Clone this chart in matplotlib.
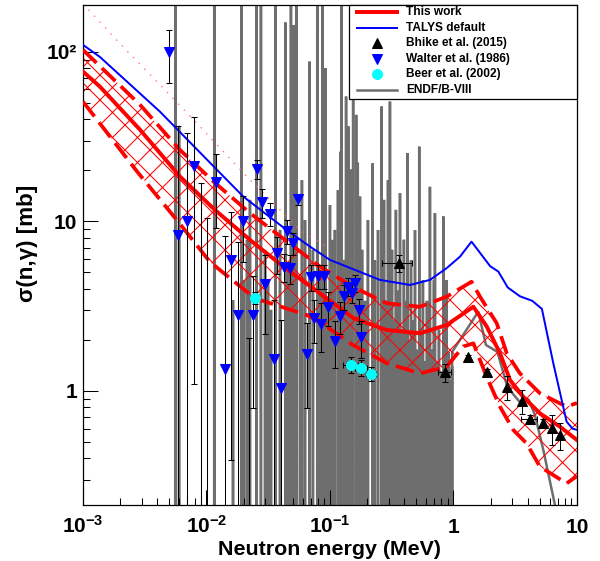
import numpy as np
import matplotlib.pyplot as plt
from matplotlib.patches import Rectangle
from matplotlib.ticker import LogLocator, NullFormatter

plt.rcParams['font.family'] = ['Liberation Sans', 'DejaVu Sans']
plt.rcParams['font.weight'] = 'bold'
plt.rcParams['mathtext.fontset'] = 'custom'
plt.rcParams['mathtext.rm'] = 'Liberation Sans:bold'
plt.rcParams['mathtext.bf'] = 'Liberation Sans:bold'
plt.rcParams['mathtext.default'] = 'rm'
plt.rcParams['hatch.linewidth'] = 1.0

# --- this work: central value and band limits (MeV, mb)
work_e = [0.001, 0.00137, 0.0029, 0.0061, 0.0117, 0.0225, 0.0432, 0.083, 0.155, 0.287,
          0.536, 0.88, 1.45, 1.86, 2.38, 2.87, 3.67, 5.01, 7.28, 10]
work_s = [76.5, 62.4, 34.7, 18.4, 11.7, 7.78, 5.32, 3.77, 2.69, 2.29,
          2.19, 2.45, 3.14, 2.40, 1.67, 1.16, 0.926, 0.738, 0.616, 0.514]
work_hi_e = [0.001, 0.0029, 0.0061, 0.0117, 0.0225, 0.0432, 0.083, 0.153, 0.288, 0.536,
             0.88, 1.40, 1.64, 2.24, 2.70, 3.45, 5.01, 8.24, 10]
work_hi_s = [102.7, 48.7, 26.4, 16.9, 11.2, 7.78, 5.41, 4.12, 3.29, 3.14,
             3.60, 4.41, 3.60, 2.51, 1.67, 1.27, 0.969, 0.808, 0.85]
work_lo_e = [0.001, 0.00274, 0.0061, 0.01067, 0.0247, 0.0647, 0.083, 0.153, 0.288, 0.536,
             0.88, 1.20, 1.45, 1.86, 2.38, 3.05, 3.91, 5.01, 8.24, 10]
work_lo_s = [50.9, 19.7, 9.67, 5.77, 3.52, 2.81, 2.55, 1.87, 1.46, 1.27,
             1.39, 1.83, 1.91, 1.21, 0.808, 0.589, 0.491, 0.358, 0.285, 0.315]

# --- TALYS default
talys_e = [0.001, 0.00137, 0.0042, 0.0146, 0.0199, 0.0446, 0.069, 0.1, 0.254, 0.445,
           0.645, 0.88, 1.13, 1.40, 1.98, 2.31, 2.75, 3.45, 4.35, 5.2, 6.43, 8.24, 9.2, 10]
talys_s = [110, 93.4, 44.4, 17.6, 14.0, 8.9, 7.1, 5.93, 4.52, 4.22,
           4.52, 5.3, 6.2, 7.6, 5.45, 5.06, 4.08, 3.62, 3.4, 3.05, 1.46, 0.66, 0.60, 0.59]

# --- dotted curve at low energy
dot_e = [0.001, 0.00118, 0.00192, 0.00461, 0.00885, 0.0212, 0.0571, 0.094]
dot_s = [192, 169, 115, 59.7, 36.3, 18.4, 8.91, 7.1]

# --- Bhike et al. (2015)
bhike_e = [0.364, 0.853, 1.30, 1.86, 2.71, 3.60, 4.14, 5.28, 6.30, 7.24]
bhike_s = [5.67, 1.29, 1.59, 1.30, 1.06, 0.873, 0.687, 0.650, 0.603, 0.550]
bhike_ds = [0.65, 0.16, 0.05, 0.05, 0.17, 0.145, 0.03, 0.03, 0.12, 0.10]
bhike_de = [0.10, 0.10, 0.0, 0.0, 0.0, 0.0, 0.6, 0.0, 0.0, 0.0]

# --- Walter et al. (1986)
walter_e = [0.00500, 0.00592, 0.00700, 0.00796, 0.00897, 0.01005, 0.01194, 0.0140, 0.01585, 0.0179,
            0.01986, 0.022, 0.0239, 0.0258, 0.0280, 0.0298, 0.0324, 0.0349, 0.0373, 0.0399,
            0.0425, 0.0447, 0.0474, 0.0499, 0.0546, 0.0647, 0.0700, 0.0746, 0.0793, 0.0845,
            0.0893, 0.0957, 0.110, 0.120, 0.130, 0.140, 0.150, 0.159, 0.171, 0.180]
walter_s = [100.4, 8.33, 10.07, 21.1, 0.15, 0.15, 17.1, 1.35, 5.89, 2.79,
            10.0, 0.15, 2.79, 20.5, 13.0, 4.28, 11.1, 1.54, 6.49, 1.04,
            5.41, 8.79, 5.30, 7.44, 13.5, 1.66, 4.71, 2.68, 4.77, 2.49,
            4.77, 3.13, 1.97, 2.76, 3.62, 4.12, 3.79, 4.36, 2.99, 2.07]
walter_ds = [35, 28, 23, 20, 16.8, 10.3, 7.9, 6.8, 5.5, 4.8,
             4.2, 1.9, 2.0, 2.6, 2.5, 2.1, 1.7, 1.9, 1.6, 1.6,
             1.0, 1.4, 1.0, 1.1, 1.0, 0.87, 0.8, 0.76, 0.8, 0.8,
             0.8, 0.7, 0.6, 0.6, 0.6, 0.5, 0.5, 0.5, 0.5, 0.5]

# --- Beer et al. (2002)
beer_e = [0.0247, 0.148, 0.179, 0.214]
beer_s = [3.54, 1.43, 1.37, 1.26]
beer_ds = [0.3, 0.16, 0.15, 0.12]
beer_de = [0.0, 0.02, 0.02, 0.02]

# --- ENDF/B-VIII: resolved resonances (energy, peak), then smooth part above 1 MeV
res_e = [0.00559, 0.00600, 0.01156, 0.0164, 0.01914, 0.0201, 0.0213, 0.0225, 0.02547, 0.02761,
         0.0298, 0.0315, 0.0333, 0.03631, 0.0394, 0.04347, 0.0457, 0.04831, 0.05045, 0.0537,
         0.0572, 0.0593, 0.0628, 0.0683, 0.0728, 0.0789, 0.0830, 0.0869, 0.0920, 0.0955,
         0.1000, 0.1038, 0.1096, 0.1161, 0.122, 0.124, 0.1298, 0.135, 0.141, 0.148,
         0.154, 0.163, 0.168, 0.175,
         0.182, 0.192, 0.203, 0.222, 0.231, 0.245, 0.262, 0.274, 0.284, 0.295,
         0.306, 0.318, 0.330, 0.342, 0.355, 0.369, 0.383, 0.397, 0.412, 0.423,
         0.436, 0.453, 0.470, 0.488, 0.506, 0.528, 0.546, 0.566, 0.588, 0.610,
         0.633, 0.645, 0.669, 0.695, 0.708, 0.735, 0.763, 0.793, 0.827, 0.853,
         0.881, 0.908, 0.938, 0.973]
res_peak = [1000, 36.6, 1000, 3.44, 1000, 4.52, 7.78, 13.4, 1000, 1000,
            6.79, 4.52, 3.01, 1000, 8.91, 149, 5.17, 1000, 144, 1000,
            3.44, 17.5, 10.2, 87.6, 6.79, 1000, 5.17, 1000, 80.1, 3.44,
            12.5, 7.78, 8.91, 15.3, 25.8, 1000, 5.93, 54.5, 36.3, 20.2,
            52.1, 42.5, 22.2, 14.0,
            6.8, 3.4, 10.2, 22.0, 5.9, 8.9, 47.6, 13.4, 3.4, 17.5,
            50.9, 6.8, 2.6, 11.7, 3.9, 14.7, 2.3, 7.8, 3.4, 25.3,
            2.0, 5.9, 2.6, 8.9, 1.75, 27.6, 2.3, 4.5, 1.5, 3.4,
            2.0, 16.0, 1.75, 4.5, 11.2, 1.5, 2.3, 1.3, 10.7, 1.75,
            4.5, 1.7, 1.16, 1.4]
res_floor = 0.05
endf_tail_e = [0.975, 1.59, 1.83, 2.27, 2.74, 3.52, 4.04, 4.57, 5.34, 6.64, 7.57]
endf_tail_s = [1.7, 2.94, 1.87, 1.70, 1.05, 0.844, 0.897, 0.722, 0.449, 0.212, 0.12]

legend_labels = ['This work', 'TALYS default', 'Bhike et al. (2015)',
                 'Walter et al. (1986)', 'Beer et al. (2002)', 'ENDF/B-VIII']

GRAY = '#6e6e6e'

fig = plt.figure(figsize=(8, 7.48), dpi=75)
ax = fig.add_axes([0.1383, 0.0998, 0.8233, 0.8913])
ax.set_xscale('log')
ax.set_yscale('log')

# ENDF line: every resonance is a narrow spike between floor values
endf_e, endf_s = [], []
for e, p in zip(res_e, res_peak):
    endf_e += [e * 0.998, e, e * 1.002]
    endf_s += [res_floor, p, res_floor]
endf_e += endf_tail_e
endf_s += endf_tail_s
ax.plot(endf_e, endf_s, color=GRAY, lw=2.4, solid_joinstyle='bevel', zorder=1)

# hatched uncertainty band
band_e = np.concatenate([work_hi_e, work_lo_e[::-1]])
band_s = np.concatenate([work_hi_s, work_lo_s[::-1]])
ax.fill(band_e, band_s, facecolor='none', edgecolor='red', hatch='x', lw=0, zorder=2)
ax.plot(work_hi_e, work_hi_s, color='red', lw=3.6, dashes=(5, 2), zorder=3)
ax.plot(work_lo_e, work_lo_s, color='red', lw=3.6, dashes=(5, 2), zorder=3)
ax.plot(work_e, work_s, color='red', lw=3.8, zorder=3)

ax.plot(talys_e, talys_s, color='blue', lw=1.9, zorder=4)
ax.plot(dot_e, dot_s, color='#ff7070', lw=1.3, ls=(0, (1, 5)), zorder=4)

# data points
ax.errorbar(walter_e, walter_s, yerr=walter_ds, fmt='v', color='blue', ms=9.5,
            ecolor='black', elinewidth=1, capsize=3, capthick=1, zorder=5)
ax.errorbar(bhike_e, bhike_s, yerr=bhike_ds, xerr=bhike_de, fmt='^', color='black', ms=9,
            ecolor='black', elinewidth=1, capsize=3, capthick=1, zorder=5)
ax.errorbar(beer_e, beer_s, yerr=beer_ds, xerr=beer_de, fmt='o', color='#00ffff', ms=9.5,
            ecolor='black', elinewidth=1, capsize=3, capthick=1, zorder=5)

ax.set_xlim(1e-3, 10)
ax.set_ylim(0.2126, 189)

ax.set_xticks([1e-3, 1e-2, 1e-1, 1, 10], [r'$10^{-3}$', r'$10^{-2}$', r'$10^{-1}$', '1', '10'])
ax.set_yticks([1, 10, 100], ['1', '10', '10²'])
ax.xaxis.set_minor_locator(LogLocator(base=10, subs=np.arange(2, 10), numticks=20))
ax.yaxis.set_minor_locator(LogLocator(base=10, subs=np.arange(2, 10), numticks=20))
ax.xaxis.set_minor_formatter(NullFormatter())
ax.yaxis.set_minor_formatter(NullFormatter())
ax.tick_params(which='both', direction='in', top=False, right=False, width=1)
ax.tick_params(which='major', length=14)
ax.tick_params(which='minor', length=7)
ax.tick_params(axis='x', pad=27, labelsize=20)
ax.tick_params(axis='y', pad=5.5, labelsize=20)
for t in ax.get_xticklabels():
    t.set_va('baseline')
for sp in ax.spines.values():
    sp.set_linewidth(1.2)

fig.text(0.55, 0.011, 'Neutron energy (MeV)', ha='center', va='baseline', fontsize=20.5,
         fontweight='bold')
fig.text(0.045, 0.567, 'σ(n,γ) [mb]', ha='center', va='center', rotation=90, fontsize=21.5,
         fontweight='bold')

# legend box, drawn by hand in axes coordinates
ax.add_patch(Rectangle((0.5385, 0.812), 0.4615, 0.188, transform=ax.transAxes,
                       facecolor='white', edgecolor='black', lw=1.2, zorder=10, clip_on=False))
rows_y = [0.985, 0.954, 0.923, 0.892, 0.861, 0.830]
hx = [0.5547, 0.6356]
mx = 0.5951
tx = 0.6538
kw = dict(transform=ax.transAxes, clip_on=False, zorder=11)
ax.plot(hx, [rows_y[0]] * 2, color='red', lw=3.8, **kw)
ax.plot(hx, [rows_y[1]] * 2, color='blue', lw=1.9, **kw)
ax.plot([mx], [rows_y[2]], marker='^', color='black', ms=9, ls='none', **kw)
ax.plot([mx], [rows_y[3]], marker='v', color='blue', ms=9.5, ls='none', **kw)
ax.plot([mx], [rows_y[4]], marker='o', color='#00ffff', ms=9.5, ls='none', **kw)
ax.plot(hx, [rows_y[5]] * 2, color=GRAY, lw=2.4, **kw)
for lab, yy in zip(legend_labels, rows_y):
    ax.text(tx, yy, lab, transform=ax.transAxes, ha='left', va='center', fontsize=11.4,
            fontweight='bold', zorder=12)

fig.savefig('out.png', dpi=75)
